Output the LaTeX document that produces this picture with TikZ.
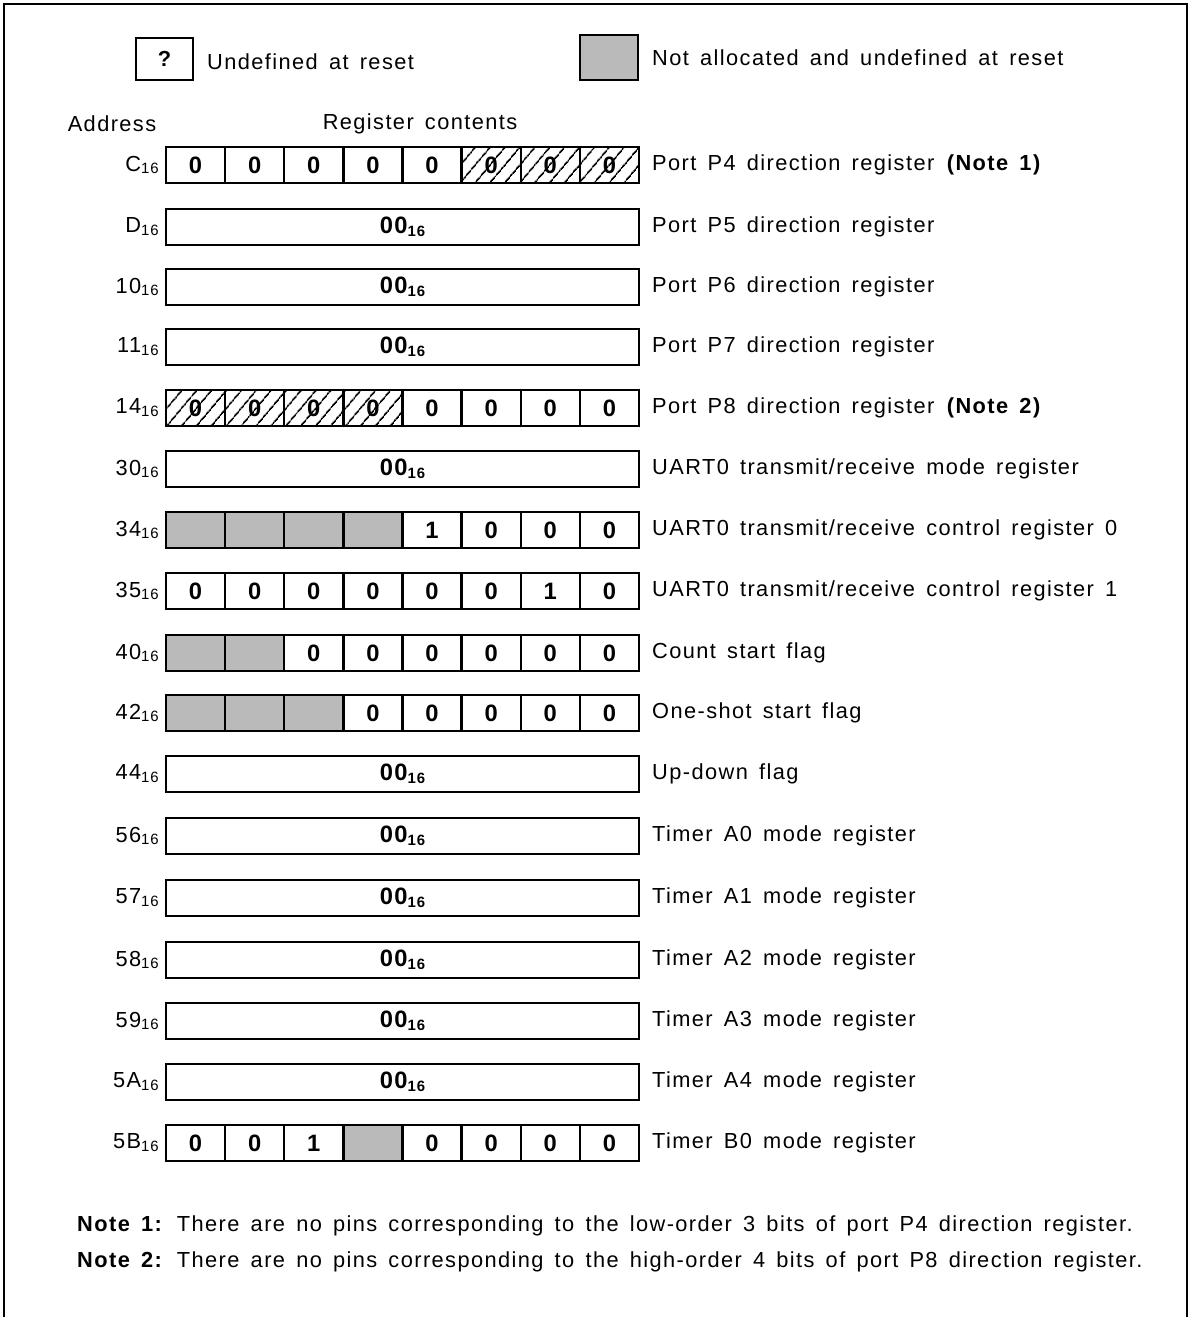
\documentclass[tikz,border=0pt]{standalone}
\usepackage{fontspec}
\setmainfont{Liberation Sans}[LetterSpace=6.5,WordSpace=1.5]
\usetikzlibrary{patterns.meta}
\newcommand{\hexs}[1]{#1\raisebox{-.25ex}{\fontsize{8.5}{8.5}\selectfont 16}}
\tikzset{cell/.style={draw,line width=1.3pt,minimum width=1.1825cm,minimum height=.72cm,inner sep=0pt,font=\bfseries\fontsize{13.5}{13.5}\selectfont},
b0/.style={node contents=0},b1/.style={node contents=1},
bh/.style={node contents=0,pattern={Lines[angle=50,distance=6.5pt,line width=1pt]}},
bg/.style={node contents={},fill=black!27},
adr/.style={anchor=east},dsc/.style={anchor=west}}

\begin{document}
\begin{tikzpicture}[x=.02cm,y=-.02cm,font=\fontsize{12.4}{14}\selectfont]
\useasboundingbox(0,0)rectangle(1190,1317);
\draw[line width=1pt](4,1330)--(4,4)--(1187,4)--(1187,1330);
% legend
\node[draw,line width=1.3pt,minimum width=1.14cm,minimum height=.84cm,font=\bfseries\fontsize{12.4}{12}\selectfont](undef)at(164.5,59){?};
\node[dsc](undeftxt)at(201,62){Undefined at reset};
\node[draw,line width=1.4pt,fill=black!27,minimum width=1.16cm,minimum height=.9cm](nalloc)at(609,57.5){};
\node[dsc](nalloctxt)at(646,58){Not allocated and undefined at reset};
\node(addr)at(112,124){Address};\node(cont)at(420,124){Register contents};
% registers with single bits
\foreach \i/\y/\a/\bits/\d in {1/165/C/{0,0,0,0,0,h,h,h}/{Port P4 direction register \textbf{(Note 1)}},
 5/408/14/{h,h,h,h,0,0,0,0}/{Port P8 direction register \textbf{(Note 2)}},
 7/530/34/{g,g,g,g,1,0,0,0}/{UART0 transmit/receive control register 0},
 8/591/35/{0,0,0,0,0,0,1,0}/{UART0 transmit/receive control register 1},
 9/653/40/{g,g,0,0,0,0,0,0}/{Count start flag},
 10/713/42/{g,g,g,0,0,0,0,0}/{One-shot start flag},
 17/1143/5B/{0,0,1,g,0,0,0,0}/{Timer B0 mode register}}{
 \node[adr](a\i)at(165,\y){\hexs{\a}};
 \foreach \v[count=\j] in \bits{\node[cell,b\v,name=r\i-\j,at={({166+59.125*\j-29.56},\y)}];}
 \node[dsc](d\i)at(646,\y){\d};}
% registers reset as a whole
\foreach \i/\y/\a/\d in {2/227/D/{Port P5 direction register},3/287/10/{Port P6 direction register},
 4/347/11/{Port P7 direction register},6/469/30/{UART0 transmit/receive mode register},
 11/774/44/{Up-down flag},12/836/56/{Timer A0 mode register},13/898/57/{Timer A1 mode register},
 14/960/58/{Timer A2 mode register},15/1021/59/{Timer A3 mode register},16/1082/5A/{Timer A4 mode register}}{
 \node[adr](a\i)at(165,\y){\hexs{\a}};
 \node[cell,minimum width=9.46cm](r\i)at(402.5,\y){\hexs{00}};
 \node[dsc](d\i)at(646,\y){\d};}
\node[dsc](note1)at(71,1226){\textbf{Note 1:} There are no pins corresponding to the low-order 3 bits of port P4 direction register.};
\node[dsc](note2)at(71,1262){\textbf{Note 2:} There are no pins corresponding to the high-order 4 bits of port P8 direction register.};
\end{tikzpicture}
\end{document}
